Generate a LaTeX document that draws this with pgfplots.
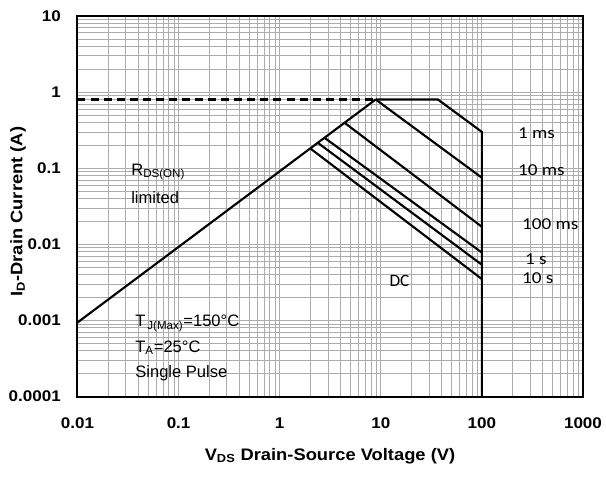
\documentclass[border=0pt]{standalone}
\usepackage{pgfplots}
\pgfplotsset{compat=1.18}
\usepackage{fontspec}
\setmainfont{Liberation Sans}
\newfontfamily\calib{Carlito}
\newfontfamily\calibw[FakeStretch=1.15]{Carlito}
\newfontfamily\arialw[FakeStretch=1.1]{Liberation Sans}
\definecolor{gridgray}{RGB}{172,172,172}
\begin{document}
\begin{tikzpicture}
\begin{axis}[
  scale only axis, width=379.1pt, height=285.4pt,
  xmode=log, ymode=log,
  xmin=0.01, xmax=1000, ymin=1e-4, ymax=10,
  xtick={0.01,0.1,1,10,100,1000},
  xticklabels={0.01,0.1,1,10,100,1000},
  ytick={0.0001,0.001,0.01,0.1,1,10},
  yticklabels={0.0001,0.001,0.01,0.1,1,10},
  minor xtick={0.02,0.03,0.04,0.05,0.06,0.07,0.08,0.09,0.2,0.3,0.4,0.5,0.6,0.7,0.8,0.9,2,3,4,5,6,7,8,9,20,30,40,50,60,70,80,90,200,300,400,500,600,700,800,900},
  minor ytick={0.0002,0.0003,0.0004,0.0005,0.0006,0.0007,0.0008,0.0009,0.002,0.003,0.004,0.005,0.006,0.007,0.008,0.009,0.02,0.03,0.04,0.05,0.06,0.07,0.08,0.09,0.2,0.3,0.4,0.5,0.6,0.7,0.8,0.9,2,3,4,5,6,7,8,9},
  grid=both,
  major grid style={draw=gridgray, line width=0.6pt},
  minor grid style={draw=gridgray, line width=0.6pt},
  major tick length=0pt, minor tick length=0pt,
  axis line style={line width=1.5pt},
  xticklabel style={anchor=center, yshift=-19.9pt, font=\arialw\bfseries\fontsize{11.6}{13}\selectfont},
  yticklabel style={anchor=east, xshift=-9pt, font=\arialw\bfseries\fontsize{11.6}{13}\selectfont},
  xlabel={V\textsubscript{DS} Drain-Source Voltage (V)},
  ylabel={I\textsubscript{D}-Drain Current (A)},
  xlabel style={at={(axis description cs:0.4995,-0.156)}, anchor=center, font=\arialw\bfseries\fontsize{12.5}{14}\selectfont},
  ylabel style={at={(axis description cs:-0.1177,0.486)}, anchor=center, font=\arialw\bfseries\fontsize{12.5}{14}\selectfont},
]
% RDS(on) limit
\addplot[black, line width=1.6pt] coordinates {(0.01,0.00094) (8.9,0.8)};
% dashed current limit
\addplot[black, line width=1.6pt, dash pattern=on 6pt off 3.8pt] coordinates {(0.01,0.8) (8.9,0.8)};
% 1 ms envelope
\addplot[black, line width=1.6pt] coordinates {(8.9,0.8) (36.7,0.8) (100,0.30) (100,0.0001)};
% 10 ms
\addplot[black, line width=1.6pt] coordinates {(8.9,0.8) (100,0.075)};
% 100 ms
\addplot[black, line width=1.6pt] coordinates {(4.4,0.394) (100,0.017)};
% 1 s
\addplot[black, line width=1.6pt] coordinates {(2.79,0.25) (100,0.0078)};
% 10 s
\addplot[black, line width=1.6pt] coordinates {(2.38,0.216) (100,0.0054)};
% DC
\addplot[black, line width=1.6pt] coordinates {(2.03,0.18) (100,0.0035)};

\coordinate (sw) at (rel axis cs:0,0);
\coordinate (ne) at (rel axis cs:1,1);

\node[anchor=base west, inner sep=0pt, font=\fontsize{12.4}{14}\selectfont] at (rel axis cs:0.106,0.582) {R\textsubscript{DS(ON)}};
\node[anchor=base west, inner sep=0pt, font=\fontsize{12.4}{14}\selectfont] at (rel axis cs:0.106,0.508) {limited};
\node[anchor=base west, inner sep=0pt, font=\fontsize{12.4}{14}\selectfont] at (rel axis cs:0.114,0.183) {T\textsubscript{\,J(Max)}=150°C};
\node[anchor=base west, inner sep=0pt, font=\fontsize{12.4}{14}\selectfont] at (rel axis cs:0.114,0.117) {T\textsubscript{A}=25°C};
\node[anchor=base west, inner sep=0pt, font=\fontsize{12.4}{14}\selectfont] at (rel axis cs:0.114,0.051) {Single Pulse};
\node[anchor=base, inner sep=0pt, font=\calib\fontsize{13}{15}\selectfont] at (rel axis cs:0.637,0.288) {DC};
\node[anchor=base west, inner sep=0pt, font=\calibw\fontsize{12.5}{15}\selectfont] at (rel axis cs:0.871,0.677) {1 ms};
\node[anchor=base west, inner sep=0pt, font=\calibw\fontsize{12.5}{15}\selectfont] at (rel axis cs:0.871,0.582) {10 ms};
\node[anchor=base west, inner sep=0pt, font=\calibw\fontsize{12.5}{15}\selectfont] at (rel axis cs:0.879,0.438) {100 ms};
\node[anchor=base west, inner sep=0pt, font=\calibw\fontsize{12.5}{15}\selectfont] at (rel axis cs:0.885,0.348) {1 s};
\node[anchor=base west, inner sep=0pt, font=\calibw\fontsize{12.5}{15}\selectfont] at (rel axis cs:0.879,0.298) {10 s};
\end{axis}
\pgfresetboundingbox
\path[use as bounding box] ([shift={(-58.1pt,-59.6pt)}]sw) rectangle ([shift={(17.25pt,12pt)}]ne);
\end{tikzpicture}
\end{document}
